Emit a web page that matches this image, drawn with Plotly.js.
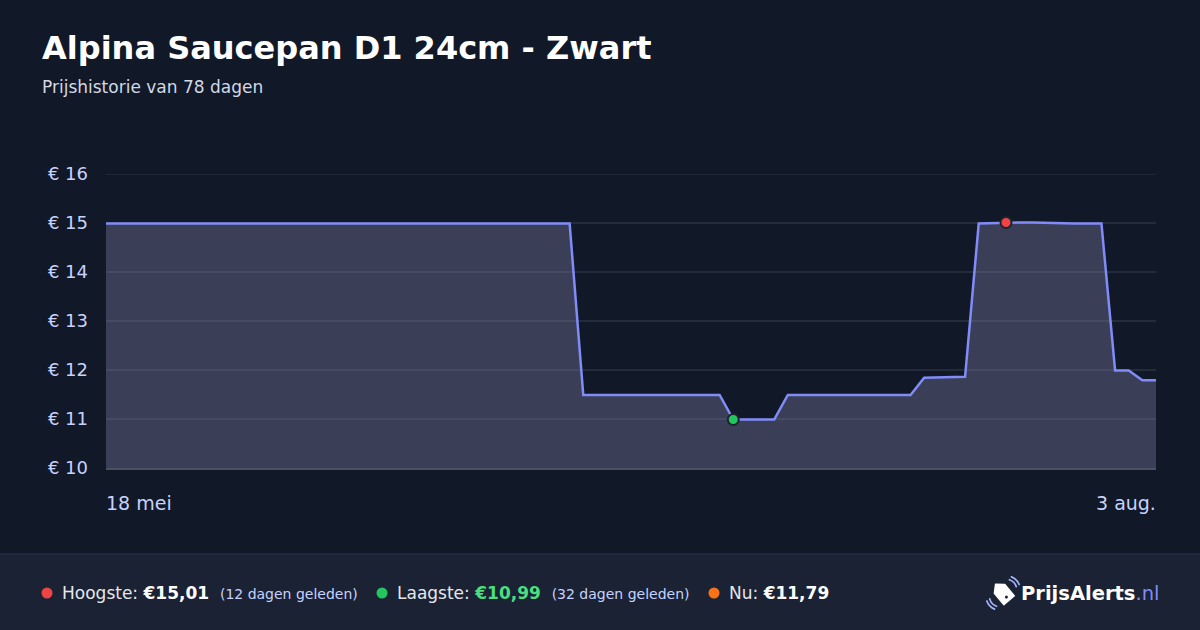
<!DOCTYPE html>
<html>
<head>
<meta charset="utf-8">
<script src="https://cdn.plot.ly/plotly-3.0.1.min.js"></script>
<style>
  html, body { margin: 0; padding: 0; background: #111827; }
  #chart { width: 1200px; height: 630px; }
</style>
</head>
<body>
<div id="chart"></div>
<script>
// ---- data ----
const startDate = '2025-05-18';
const dayOffsets = [
  0,1,2,3,4,5,6,7,8,9,10,11,12,13,14,15,16,17,18,19,20,21,22,23,24,25,26,27,28,29,30,31,32,33,34,
  35,36,37,38,39,40,41,42,43,44,45,
  46,47,48,49,
  50,51,52,53,54,55,56,57,58,59,
  60,61,62,63,
  64,65,66,67,68,69,
  70,71,72,73,
  74,75,
  76,77
];
const prices = [
  14.99,14.99,14.99,14.99,14.99,14.99,14.99,14.99,14.99,14.99,14.99,14.99,14.99,14.99,14.99,14.99,14.99,14.99,
  14.99,14.99,14.99,14.99,14.99,14.99,14.99,14.99,14.99,14.99,14.99,14.99,14.99,14.99,14.99,14.99,14.99,
  11.49,11.49,11.49,11.49,11.49,11.49,11.49,11.49,11.49,11.49,11.49,
  10.99,10.99,10.99,10.99,
  11.49,11.49,11.49,11.49,11.49,11.49,11.49,11.49,11.49,11.49,
  11.84,11.85,11.85,11.86,
  14.99,15.00,15.01,15.01,15.01,15.00,
  14.99,14.99,14.99,14.99,
  11.99,11.99,
  11.79,11.79
];
const highIndex = 66;
const lowIndex = 46;
const xTickLabels = ['18 mei', '3 aug.'];
const yTickValues = [10, 11, 12, 13, 14, 15, 16];
const yTickLabels = ['€ 10', '€ 11', '€ 12', '€ 13', '€ 14', '€ 15', '€ 16'];
const titleText = 'Alpina Saucepan D1 24cm - Zwart';
const subtitleText = 'Prijshistorie van 78 dagen';
const highLabel = { label: 'Hoogste:', value: '€15,01', note: '(12 dagen geleden)' };
const lowLabel = { label: 'Laagste:', value: '€10,99', note: '(32 dagen geleden)' };
const nowLabel = { label: 'Nu:', value: '€11,79' };

// ---- helpers ----
function addDays(iso, n) {
  const p = iso.split('-').map(Number);
  const d = new Date(Date.UTC(p[0], p[1] - 1, p[2] + n));
  return d.toISOString().slice(0, 10);
}
const dates = dayOffsets.map(n => addDays(startDate, n));

// pixel -> paper helpers (plot area: x 106..1156, y 174..468)
const L = 106, R = 1156, T = 174, B = 468;
const px = x => (x - L) / (R - L);
const py = y => (B - y) / (B - T);

const FONT = 'DejaVu Sans, sans-serif';
const GRID = '#242b3b';

const traces = [
  {
    x: dates, y: prices, type: 'scatter', mode: 'lines',
    line: { color: '#818cf8', width: 2.5, shape: 'linear' },
    fill: 'tozeroy', fillcolor: 'rgba(134,135,179,0.35)',
    hoverinfo: 'skip', showlegend: false
  },
  {
    x: [dates[highIndex]], y: [prices[highIndex]], type: 'scatter', mode: 'markers',
    marker: { color: '#ef4444', size: 11, line: { color: '#1f2230', width: 2 } },
    showlegend: false, hoverinfo: 'skip'
  },
  {
    x: [dates[lowIndex]], y: [prices[lowIndex]], type: 'scatter', mode: 'markers',
    marker: { color: '#22c55e', size: 11, line: { color: '#1f2230', width: 2 } },
    showlegend: false, hoverinfo: 'skip'
  }
];

const logoSvg = "<svg xmlns='http://www.w3.org/2000/svg' width='64' height='64' viewBox='0 0 32 32'>" +
  "<g transform='rotate(-40 16 16)'>" +
  "<path d='M9.5 11 L16 5 L22.5 11 L22.5 25 L9.5 25 Z' fill='white' stroke='white' stroke-width='1.2' stroke-linejoin='round'/>" +
  "<circle cx='16' cy='21' r='1.4' fill='#1a2234'/></g>" +
  "<path d='M22 3.5 A10 10 0 0 1 28.5 10' stroke='#a5b4fc' stroke-width='1.6' fill='none' stroke-linecap='round'/>" +
  "<path d='M24 0.8 A13 13 0 0 1 31.2 8' stroke='#a5b4fc' stroke-width='1.6' fill='none' stroke-linecap='round'/>" +
  "<path d='M3.5 21.5 A10 10 0 0 0 10 28.5' stroke='#a5b4fc' stroke-width='1.6' fill='none' stroke-linecap='round'/>" +
  "<path d='M0.8 23.5 A13 13 0 0 0 8 31.2' stroke='#a5b4fc' stroke-width='1.6' fill='none' stroke-linecap='round'/>" +
  "</svg>";
const logoUri = 'data:image/svg+xml;charset=utf-8,' + encodeURIComponent(logoSvg);

const footerY = py(593);

function dotShape(xPix, color) {
  return {
    type: 'circle', xref: 'paper', yref: 'paper',
    xsizemode: 'pixel', ysizemode: 'pixel',
    xanchor: px(xPix), yanchor: footerY,
    x0: -5.5, x1: 5.5, y0: -5.5, y1: 5.5,
    fillcolor: color, line: { width: 0 }, layer: 'above'
  };
}

const layout = {
  width: 1200, height: 630,
  paper_bgcolor: '#111827', plot_bgcolor: '#111827',
  margin: { l: L, r: 1200 - R, t: T, b: 630 - B, pad: 0 },
  font: { family: FONT, color: '#c7d2fe' },
  showlegend: false,
  xaxis: {
    type: 'date',
    range: [dates[0], dates[dates.length - 1]],
    showgrid: false, zeroline: false,
    showticklabels: false, ticks: '',
    showline: true, linecolor: '#4b5064', linewidth: 1.5,
    fixedrange: true
  },
  yaxis: {
    range: [10, 16],
    tickmode: 'array',
    tickvals: yTickValues,
    ticktext: yTickLabels,
    tickfont: { family: FONT, size: 18, color: '#c7d2fe' },
    ticks: '', ticklabelstandoff: 17,
    showgrid: true, gridcolor: GRID, gridwidth: 1.5,
    zeroline: false, showline: false,
    fixedrange: true
  },
  shapes: [
    { type: 'rect', xref: 'paper', yref: 'paper', x0: px(-10), x1: px(1210), y0: py(554), y1: py(640),
      fillcolor: '#1a2234', line: { width: 0 }, layer: 'below' },
    { type: 'line', xref: 'paper', yref: 'paper', x0: px(-10), x1: px(1210), y0: py(554), y1: py(554),
      line: { color: '#283056', width: 1.2 }, layer: 'above' },
    { type: 'line', xref: 'paper', yref: 'y', x0: 0, x1: 1, y0: yTickValues[yTickValues.length - 1], y1: yTickValues[yTickValues.length - 1],
      line: { color: GRID, width: 1.5 }, layer: 'below' },
    dotShape(47, '#ef4444'),
    dotShape(382, '#22c55e'),
    dotShape(714, '#f97316')
  ],
  images: [
    { source: logoUri, xref: 'paper', yref: 'paper', x: px(986), y: py(576), sizex: px(1020) - px(986), sizey: py(576) - py(610),
      xanchor: 'left', yanchor: 'top', sizing: 'contain', layer: 'above' }
  ],
  annotations: [
    { text: '<b>' + titleText + '</b>', xref: 'paper', yref: 'paper', x: px(40), y: py(48),
      xanchor: 'left', yanchor: 'middle', showarrow: false,
      font: { family: FONT, size: 32, color: '#ffffff' } },
    { text: subtitleText, xref: 'paper', yref: 'paper', x: px(40), y: py(87),
      xanchor: 'left', yanchor: 'middle', showarrow: false,
      font: { family: FONT, size: 17, color: '#d1d9e6' } },
    { text: xTickLabels[0], xref: 'x', yref: 'paper', x: dates[0], xshift: -2, y: py(503),
      xanchor: 'left', yanchor: 'middle', showarrow: false,
      font: { family: FONT, size: 19, color: '#c7d2fe' } },
    { text: xTickLabels[1], xref: 'x', yref: 'paper', x: dates[dates.length - 1], xshift: 2, y: py(503),
      xanchor: 'right', yanchor: 'middle', showarrow: false,
      font: { family: FONT, size: 19, color: '#c7d2fe' } },
    { text: highLabel.label + ' <b><span style="color:#ffffff">' + highLabel.value + '</span></b>  <span style="font-size:14px;color:#c7d2fe">' + highLabel.note + '</span>',
      xref: 'paper', yref: 'paper', x: px(60), y: footerY, xanchor: 'left', yanchor: 'middle', showarrow: false,
      font: { family: FONT, size: 17, color: '#e5e7eb' } },
    { text: lowLabel.label + ' <b><span style="color:#4ade80">' + lowLabel.value + '</span></b>  <span style="font-size:14px;color:#c7d2fe">' + lowLabel.note + '</span>',
      xref: 'paper', yref: 'paper', x: px(395), y: footerY, xanchor: 'left', yanchor: 'middle', showarrow: false,
      font: { family: FONT, size: 17, color: '#e5e7eb' } },
    { text: nowLabel.label + ' <b><span style="color:#ffffff">' + nowLabel.value + '</span></b>',
      xref: 'paper', yref: 'paper', x: px(727), y: footerY, xanchor: 'left', yanchor: 'middle', showarrow: false,
      font: { family: FONT, size: 17, color: '#e5e7eb' } },
    { text: '<b>PrijsAlerts</b><span style="color:#818cf8">.nl</span>',
      xref: 'paper', yref: 'paper', x: px(1019), y: footerY, xanchor: 'left', yanchor: 'middle', showarrow: false,
      font: { family: FONT, size: 19.5, color: '#ffffff' } }
  ]
};

Plotly.newPlot('chart', traces, layout, { displayModeBar: false, staticPlot: true });
</script>
</body>
</html>
